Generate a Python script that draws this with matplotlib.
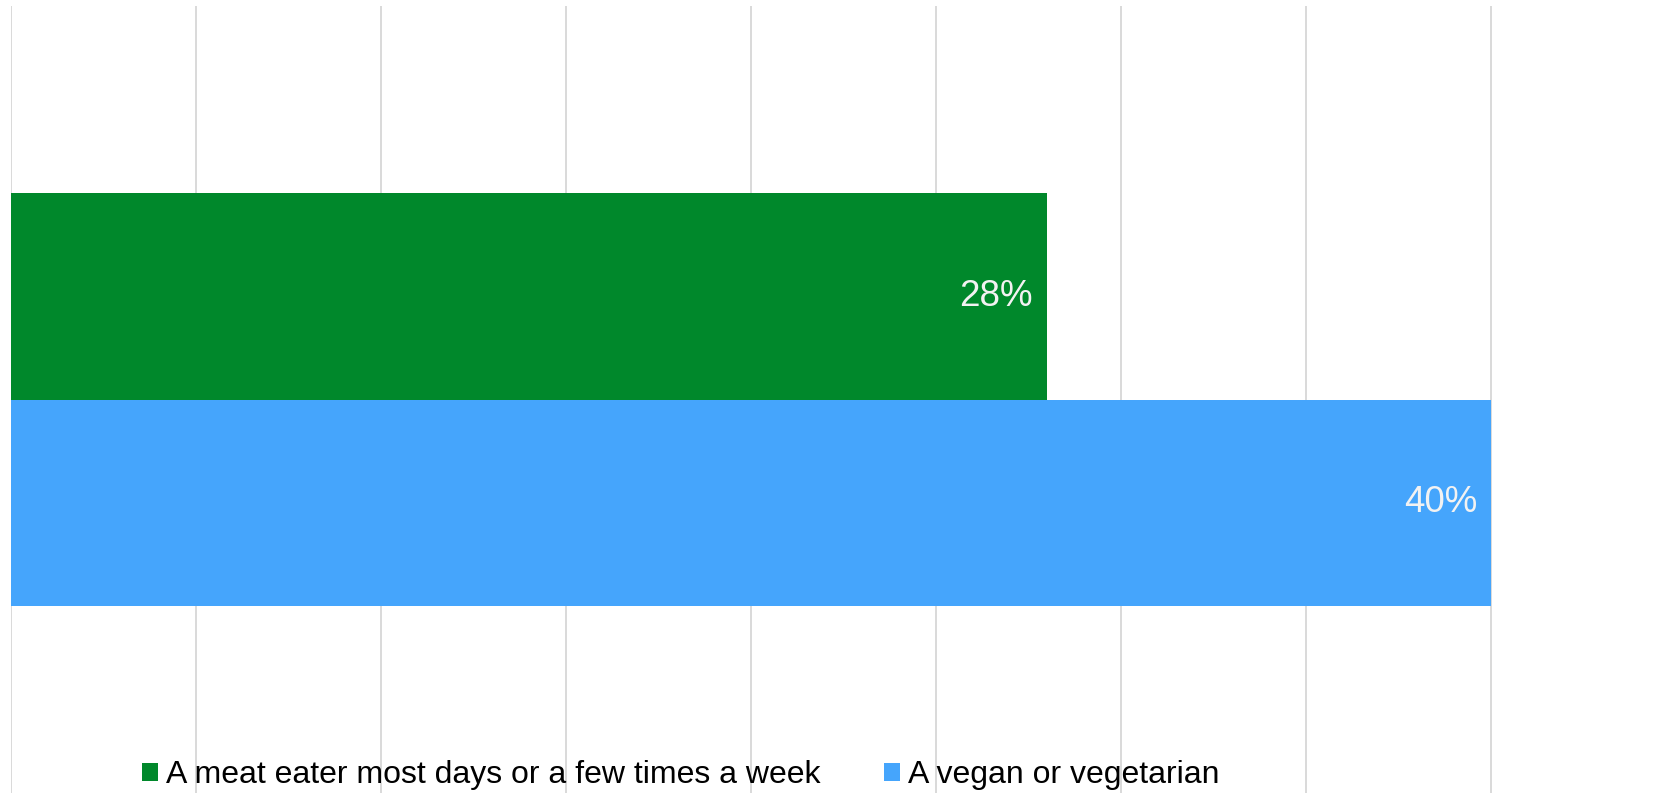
import matplotlib
matplotlib.use("Agg")
import matplotlib.pyplot as plt
from matplotlib.patches import Patch

categories = ["A meat eater most days or a few times a week", "A vegan or vegetarian"]
values = [28, 40]
colors = ["#00882B", "#45A5FC"]
labels = ["28%", "40%"]

W, H = 1669, 793
fig = plt.figure(figsize=(W / 100, H / 100), dpi=100)
left_px, top_px = 10.7, 6
ax = fig.add_axes([left_px / W, 0, 1 - left_px / W, (H - top_px) / H])
px_per_unit = 37.0
ax.set_xlim(0, (W - left_px) / px_per_unit)
ax.set_ylim(-1.406, 2.406)

ypos = [1, 0]
for y, v, c, lab in zip(ypos, values, colors, labels):
    ax.barh(y, v, height=1.0, color=c, zorder=2)
    ax.text(v - 0.37, y, lab, ha="right", va="center", color="#f2f2f2",
            fontsize=26.5, family="Liberation Sans", zorder=3)

for x in range(0, 45, 5):
    ax.axvline(x, color="#d9d9d9", lw=1.4, zorder=1)

ax.set_xticks([])
ax.set_yticks([])
for s in ax.spines.values():
    s.set_visible(False)

handles = [Patch(facecolor=c, edgecolor="none") for c in colors]
leg = fig.legend(handles, categories, loc="center", bbox_to_anchor=(0.408, (H - 775) / H),
                 ncol=2, frameon=False, handlelength=0.5, handleheight=0.5,
                 handletextpad=0.25, columnspacing=2.0,
                 prop={"family": "Liberation Sans", "size": 23})
fig.savefig("out.png", dpi=100)
